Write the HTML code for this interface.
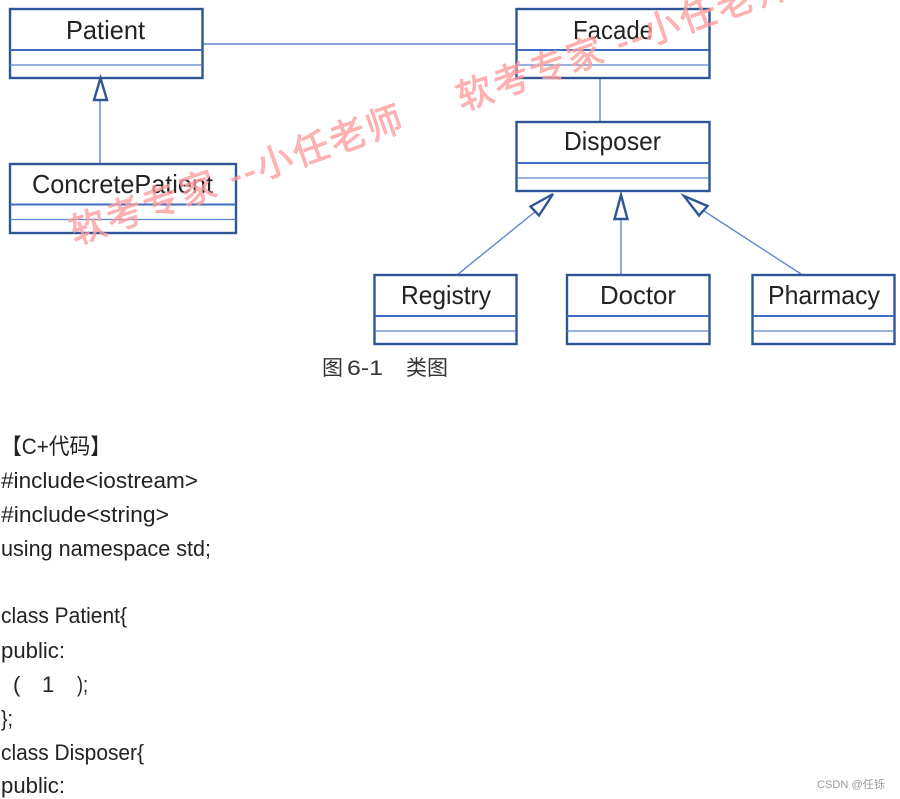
<!DOCTYPE html>
<html>
<head>
<meta charset="utf-8">
<style>
html,body{margin:0;padding:0;background:#fff;width:900px;height:799px;overflow:hidden}
svg{display:block}
text{font-family:"Liberation Sans","Noto Sans CJK SC",sans-serif}
.b{fill:#fff;stroke:#2f5597;stroke-width:2.4}
.d1{stroke:#3f6cc0;stroke-width:2}
.d2{stroke:#5b82cc;stroke-width:1.2}
.c{stroke:#5f86cf;stroke-width:1.4;fill:none}
.a{fill:#fff;stroke:#2f5597;stroke-width:2.4;stroke-linejoin:miter}
.l{font-size:26px;fill:#222}
.t{font-size:22px;fill:#222}
.w{font-size:36px;fill:#ff9c9c;fill-opacity:.75;stroke:#ff9c9c;stroke-opacity:.75;stroke-width:.9}
</style>
</head>
<body>
<svg xmlns="http://www.w3.org/2000/svg" width="900" height="799" viewBox="0 0 900 799">
<rect width="900" height="799" fill="#fff"/>

<!-- connectors -->
<line class="c" x1="203" y1="44" x2="516" y2="44"/>
<line class="c" x1="600" y1="79" x2="600" y2="122"/>
<line class="c" x1="100" y1="100" x2="100" y2="163"/>
<line class="c" x1="536" y1="211" x2="457" y2="275"/>
<line class="c" x1="621" y1="219" x2="621" y2="275"/>
<line class="c" x1="704" y1="211" x2="801" y2="274"/>

<!-- boxes -->
<rect class="b" x="10" y="9" width="192.500" height="69"/>
<line class="d1" x1="10" y1="50" x2="202" y2="50"/>
<line class="d2" x1="10" y1="65" x2="202" y2="65"/>

<rect class="b" x="10" y="164" width="226" height="69"/>
<line class="d1" x1="10" y1="204.500" x2="236" y2="204.500"/>
<line class="d2" x1="10" y1="219.500" x2="236" y2="219.500"/>

<rect class="b" x="516.500" y="9" width="193" height="69"/>
<line class="d1" x1="517" y1="50" x2="709" y2="50"/>
<line class="d2" x1="517" y1="65" x2="709" y2="65"/>

<rect class="b" x="516.500" y="122" width="193" height="69"/>
<line class="d1" x1="517" y1="163" x2="709" y2="163"/>
<line class="d2" x1="517" y1="178" x2="709" y2="178"/>

<rect class="b" x="374.500" y="275" width="142" height="69"/>
<line class="d1" x1="375" y1="316" x2="516" y2="316"/>
<line class="d2" x1="375" y1="331" x2="516" y2="331"/>

<rect class="b" x="567" y="275" width="142.500" height="69"/>
<line class="d1" x1="567" y1="316" x2="709" y2="316"/>
<line class="d2" x1="567" y1="331" x2="709" y2="331"/>

<rect class="b" x="752.500" y="275" width="142" height="69"/>
<line class="d1" x1="753" y1="316" x2="894" y2="316"/>
<line class="d2" x1="753" y1="331" x2="894" y2="331"/>

<!-- arrowheads -->
<polygon class="a" points="100.500,78 94,100 107,100"/>
<polygon class="a" points="553,194 530.500,206.500 539,215.500"/>
<polygon class="a" points="621,195 614.500,219 627.500,219"/>
<polygon class="a" points="684,196 707.500,206 699,215.500"/>

<!-- class labels -->
<text class="l" x="66" y="39" textLength="79" lengthAdjust="spacingAndGlyphs">Patient</text>
<text class="l" x="32" y="193" textLength="181" lengthAdjust="spacingAndGlyphs">ConcretePatient</text>
<text class="l" x="573" y="39" textLength="80" lengthAdjust="spacingAndGlyphs">Facade</text>
<text class="l" x="564" y="150" textLength="97" lengthAdjust="spacingAndGlyphs">Disposer</text>
<text class="l" x="401" y="304" textLength="90" lengthAdjust="spacingAndGlyphs">Registry</text>
<text class="l" x="600" y="304" textLength="76" lengthAdjust="spacingAndGlyphs">Doctor</text>
<text class="l" x="768" y="304" textLength="112" lengthAdjust="spacingAndGlyphs">Pharmacy</text>

<!-- caption -->
<text x="322" y="375" font-size="21" fill="#333">图</text>
<text x="347" y="375" font-size="21" fill="#333" textLength="36" lengthAdjust="spacingAndGlyphs">6-1</text>
<text x="406" y="375" font-size="21" fill="#333">类图</text>

<!-- code -->
<text class="t" x="1" y="454" textLength="110" lengthAdjust="spacingAndGlyphs">【C+代码】</text>
<text class="t" x="1" y="488" textLength="197" lengthAdjust="spacingAndGlyphs">#include&lt;iostream&gt;</text>
<text class="t" x="1" y="522" textLength="168" lengthAdjust="spacingAndGlyphs">#include&lt;string&gt;</text>
<text class="t" x="1" y="556" textLength="210" lengthAdjust="spacingAndGlyphs">using namespace std;</text>
<text class="t" x="1" y="623" textLength="126" lengthAdjust="spacingAndGlyphs">class Patient{</text>
<text class="t" x="1" y="658" textLength="64" lengthAdjust="spacingAndGlyphs">public:</text>
<text class="t" x="13" y="692">(</text>
<text class="t" x="42" y="692">1</text>
<text class="t" x="77" y="692" textLength="11" lengthAdjust="spacingAndGlyphs">);</text>
<text class="t" x="1" y="726" textLength="12" lengthAdjust="spacingAndGlyphs">};</text>
<text class="t" x="1" y="760" textLength="143" lengthAdjust="spacingAndGlyphs">class Disposer{</text>
<text class="t" x="1" y="793" textLength="64" lengthAdjust="spacingAndGlyphs">public:</text>

<!-- watermarks -->
<text class="w" transform="translate(75,245) rotate(-19.300)" textLength="350" lengthAdjust="spacing">软考专家 --小任老师</text>
<text class="w" transform="translate(462,111) rotate(-19.300)" textLength="350" lengthAdjust="spacing">软考专家 --小任老师</text>

<!-- footer -->
<text x="817" y="788" font-size="11" fill="#999" textLength="68" lengthAdjust="spacingAndGlyphs">CSDN @任铄</text>
</svg>
</body>
</html>
